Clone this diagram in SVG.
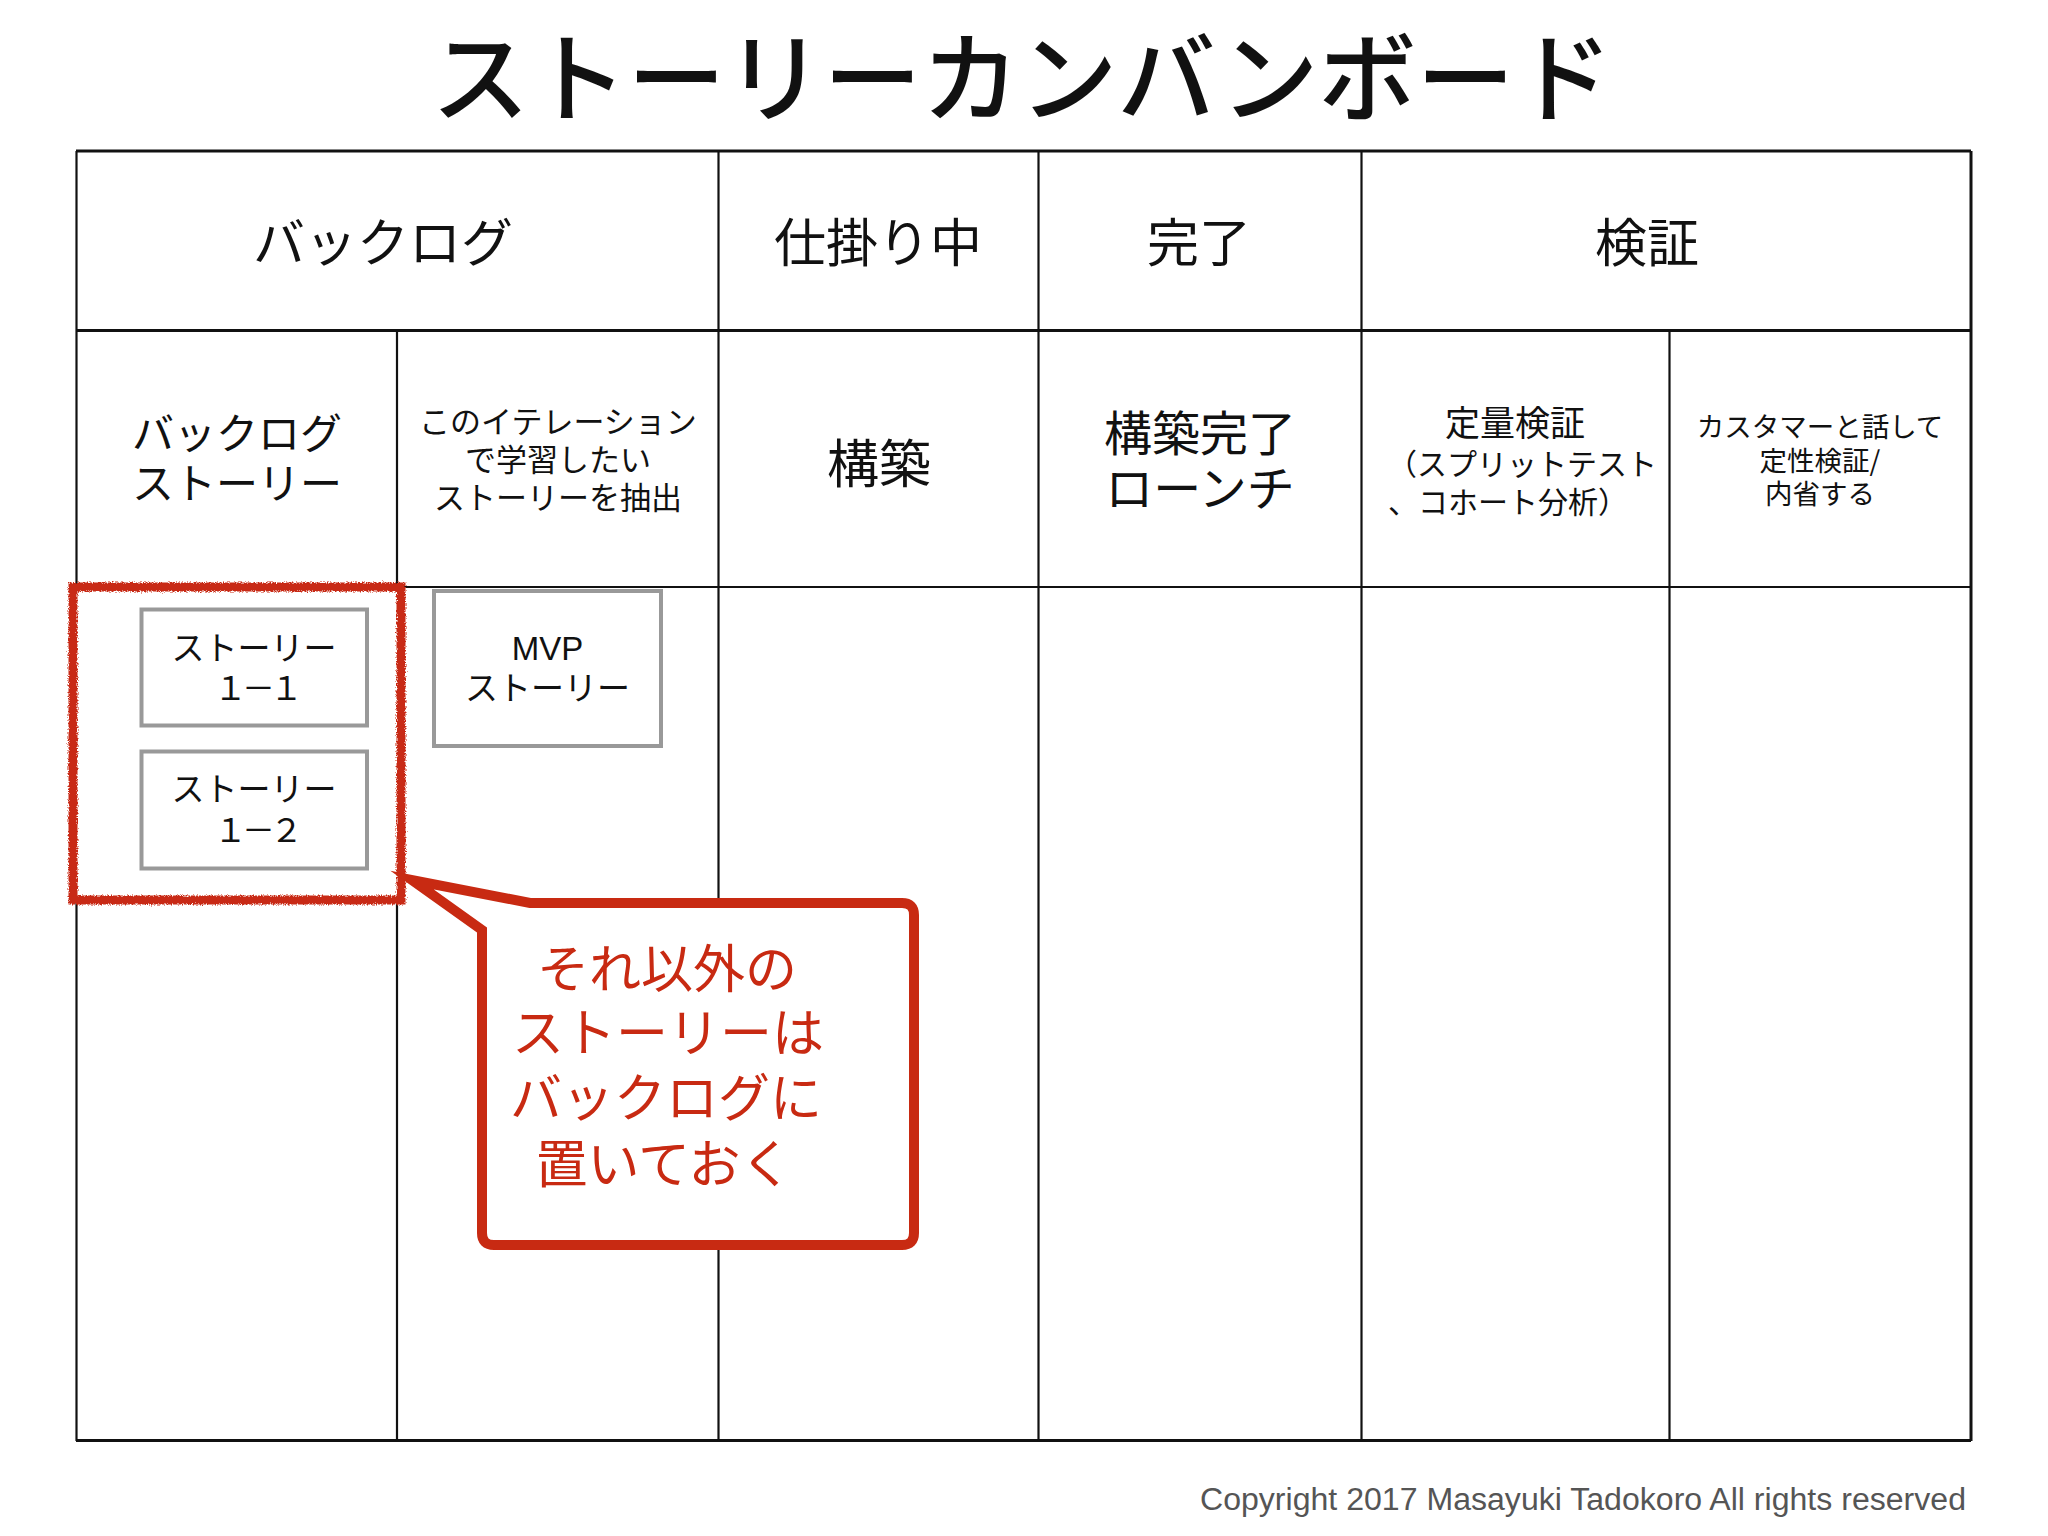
<svg xmlns="http://www.w3.org/2000/svg" width="2048" height="1536" viewBox="0 0 2048 1536">
<defs>
<style>
.jp{font-family:"Noto Sans CJK JP","Noto Sans CJK SC",sans-serif;fill:#111;text-anchor:middle}
.grid line{stroke:#111;stroke-width:2.2}
.card{fill:#fff;stroke:#999;stroke-width:4}
.num{letter-spacing:-5px}
.red{fill:#C82A12}
</style>
<filter id="rough" x="-5%" y="-5%" width="110%" height="110%">
<feTurbulence type="fractalNoise" baseFrequency="0.8" numOctaves="2" seed="3" result="n"/>
<feDisplacementMap in="SourceGraphic" in2="n" scale="5" xChannelSelector="R" yChannelSelector="G"/>
</filter>
</defs>
<rect width="2048" height="1536" fill="#fff"/>

<text id="title" class="jp" x="1022" y="114" font-size="98" font-weight="500">ストーリーカンバンボード</text>

<g id="connectors" class="grid">
<line x1="76" y1="151" x2="1971" y2="151" style="stroke-width:3"/>
<line x1="76" y1="330.5" x2="1971" y2="330.5" style="stroke-width:3"/>
<line x1="76" y1="587" x2="1971" y2="587"/>
<line x1="76" y1="1440.5" x2="1971" y2="1440.5" style="stroke-width:3"/>
<line x1="76.5" y1="151" x2="76.5" y2="1441"/>
<line x1="1971" y1="151" x2="1971" y2="1441" style="stroke-width:3"/>
<line x1="397" y1="330" x2="397" y2="1441"/>
<line x1="718.5" y1="151" x2="718.5" y2="1441"/>
<line x1="1038.5" y1="151" x2="1038.5" y2="1441"/>
<line x1="1361.5" y1="151" x2="1361.5" y2="1441"/>
<line x1="1669.5" y1="330" x2="1669.5" y2="1441"/>
</g>

<g id="header-backlog"><text class="jp" x="383" y="262" font-size="52">バックログ</text></g>
<g id="header-wip"><text class="jp" x="878" y="262" font-size="52">仕掛り中</text></g>
<g id="header-done"><text class="jp" x="1199" y="262" font-size="52">完了</text></g>
<g id="header-verify"><text class="jp" x="1647" y="262" font-size="52">検証</text></g>

<g id="sub-backlog-story" font-size="42">
<text class="jp" x="237" y="449">バックログ</text>
<text class="jp" x="237" y="499">ストーリー</text>
</g>
<g id="sub-iteration" font-size="31">
<text class="jp" x="558" y="433">このイテレーション</text>
<text class="jp" x="558" y="471">で学習したい</text>
<text class="jp" x="558" y="509">ストーリーを抽出</text>
</g>
<g id="sub-build"><text class="jp" x="879" y="483" font-size="52">構築</text></g>
<g id="sub-launch" font-size="48">
<text class="jp" x="1200" y="451">構築完了</text>
<text class="jp" x="1200" y="506">ローンチ</text>
</g>
<g id="sub-quant">
<text class="jp" x="1515" y="436" font-size="35">定量検証</text>
<text class="jp" x="1522" y="475" font-size="30">（スプリットテスト</text>
<text class="jp" x="1508" y="513" font-size="30">、コホート分析）</text>
</g>
<g id="sub-qual" font-size="27.5">
<text class="jp" x="1820" y="437">カスタマーと話して</text>
<text class="jp" x="1820" y="471">定性検証/</text>
<text class="jp" x="1820" y="504">内省する</text>
</g>

<g id="backlog-highlight">
<rect x="73" y="587" width="328" height="313" fill="#fff" stroke="#C82A12" stroke-width="9" filter="url(#rough)"/>
</g>

<g id="story-1-1">
<rect class="card" x="141.5" y="609.5" width="225.5" height="116"/>
<text class="jp" x="254" y="660" font-size="33">ストーリー</text>
<text class="jp num" x="256" y="700" font-size="33">１－１</text>
</g>
<g id="story-1-2">
<rect class="card" x="141.5" y="751.5" width="225.5" height="117"/>
<text class="jp" x="254" y="801" font-size="33">ストーリー</text>
<text class="jp num" x="256" y="842" font-size="33">１－２</text>
</g>
<g id="mvp-story">
<rect class="card" x="434" y="591" width="227" height="155"/>
<text x="547.5" y="660" font-size="33" font-family="Liberation Sans, Arial, sans-serif" text-anchor="middle" fill="#111">MVP</text>
<text class="jp" x="547.5" y="700" font-size="33">ストーリー</text>
</g>

<g id="callout">
<path d="M530 903 L902 903 Q914 903 914 915 L914 1233 Q914 1245 902 1245 L494 1245 Q482 1245 482 1233 L482 930 L412 880 Z" fill="#fff" stroke="#C82A12" stroke-width="10" stroke-linejoin="miter" stroke-miterlimit="10"/>
<g font-size="52">
<text class="jp red" x="667" y="988" style="fill:#C82A12">それ以外の</text>
<text class="jp red" x="668" y="1052" style="fill:#C82A12">ストーリーは</text>
<text class="jp red" x="666" y="1117" style="fill:#C82A12">バックログに</text>
<text class="jp red" x="664" y="1183" style="fill:#C82A12">置いておく</text>
</g>
</g>

<text id="copyright" x="1966" y="1510" font-size="31" font-family="Liberation Sans, Arial, sans-serif" text-anchor="end" fill="#555" textLength="766" lengthAdjust="spacingAndGlyphs">Copyright 2017 Masayuki Tadokoro All rights reserved</text>
</svg>
